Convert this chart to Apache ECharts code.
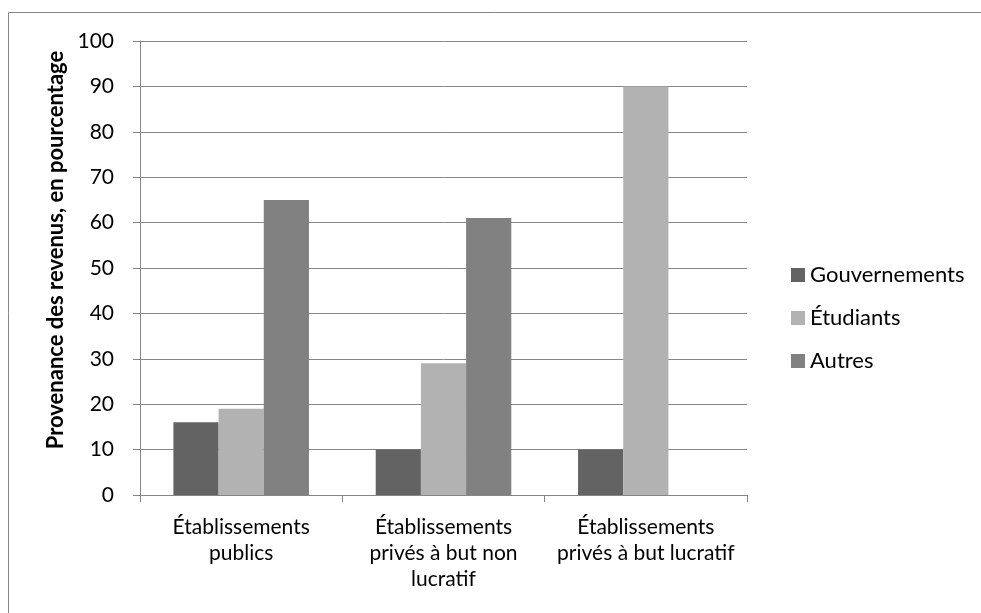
<!DOCTYPE html>
<html>
<head>
<meta charset="utf-8">
<script src="https://cdn.jsdelivr.net/npm/echarts@6/dist/echarts.min.js"></script>
<style>
  html, body { margin: 0; padding: 0; background: #ffffff; }
  #chart { width: 981px; height: 613px; }
</style>
</head>
<body>
<div id="chart"></div>
<script>
// Revenue sources by type of institution (percent)
const categories = [
  'Établissements\npublics',
  'Établissements\nprivés à but non\nlucratif',
  'Établissements\nprivés à but lucratif'
];
const seriesNames = ['Gouvernements', 'Étudiants', 'Autres'];
const gouvernements = [16, 10, 10];
const etudiants = [19, 29, 90];
const autres = [65, 61, null];
const yTicks = { min: 0, max: 100, interval: 10 };
const yTitle = 'Provenance des revenus, en pourcentage';

const colors = ['#636363', '#b2b2b2', '#818181'];
const lineGray = '#868686';
const fontFamily = 'Lato, "Open Sans", sans-serif';

const chart = echarts.init(document.getElementById('chart'));

const seriesData = [gouvernements, etudiants, autres];

chart.setOption({
  animation: false,
  backgroundColor: '#ffffff',
  textStyle: { fontFamily: fontFamily, color: '#000000' },
  graphic: [{
    type: 'rect',
    shape: { x: 8.5, y: 12.5, width: 1000, height: 700 },
    style: { fill: 'none', stroke: lineGray, lineWidth: 1 },
    silent: true
  }],
  grid: { left: 140, right: 234, top: 41, bottom: 118, containLabel: false },
  legend: {
    orient: 'vertical',
    left: 786,
    top: 259,
    itemWidth: 14,
    itemHeight: 14,
    itemGap: 21,
    icon: 'rect',
    data: seriesNames,
    textStyle: { fontFamily: fontFamily, fontSize: 22, lineHeight: 22, color: '#000000' }
  },
  xAxis: {
    type: 'category',
    data: categories,
    axisLine: { lineStyle: { color: lineGray, width: 1 } },
    axisTick: { show: true, length: 7, interval: 0, lineStyle: { color: lineGray } },
    axisLabel: {
      interval: 0,
      margin: 19,
      fontSize: 21,
      lineHeight: 26,
      color: '#000000',
      fontFamily: fontFamily,
      align: 'center'
    }
  },
  yAxis: {
    type: 'value',
    min: yTicks.min,
    max: yTicks.max,
    interval: yTicks.interval,
    name: yTitle,
    nameLocation: 'middle',
    nameGap: 27,
    nameRotate: 90,
    nameTextStyle: {
      fontFamily: fontFamily,
      fontSize: 22,
      fontWeight: 'bold',
      color: '#000000',
      padding: [0, 0, 0, 36]
    },
    axisLine: { show: true, lineStyle: { color: lineGray, width: 1 } },
    axisTick: { show: true, length: 7, lineStyle: { color: lineGray } },
    axisLabel: { margin: 26, fontSize: 21, color: '#000000', fontFamily: fontFamily },
    splitLine: { show: true, lineStyle: { color: lineGray, width: 1 } }
  },
  series: seriesData.map((values, i) => ({
    name: seriesNames[i],
    type: 'bar',
    data: values,
    barGap: '0%',
    barCategoryGap: '33%',
    itemStyle: { color: colors[i] }
  }))
});
</script>
</body>
</html>
